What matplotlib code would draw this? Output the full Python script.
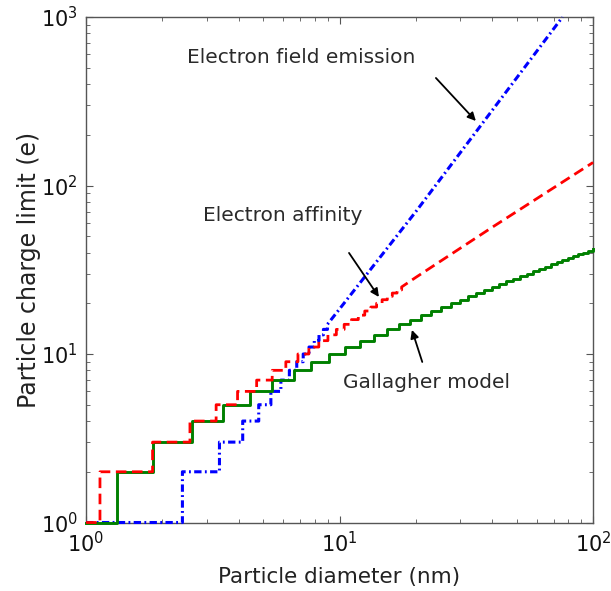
import numpy as np
import matplotlib
matplotlib.use("Agg")
import matplotlib.pyplot as plt

# step edges: diameter (nm) where the charge limit rises to the next integer
gallagher_edges = [1.32, 1.83, 2.61, 3.47, 4.42, 5.41, 6.61, 7.74, 9.09, 10.52,
                   12.05, 13.66, 15.37, 17.15, 19.03, 21.00, 23.05, 25.19, 27.42,
                   29.74, 32.15, 34.65, 37.24, 39.92, 42.70, 45.55, 48.53, 51.58,
                   54.71, 57.96, 61.30, 64.73, 68.25, 71.88, 75.62, 79.43, 83.36,
                   87.38, 91.50, 95.72, 99.6]

affinity_edges = [1.135, 1.83, 2.57, 3.26, 3.96, 4.71, 5.425, 6.14, 6.855, 7.57,
                  8.285, 9.0, 9.715, 10.43, 11.145, 11.86, 12.575, 13.29, 14.005,
                  14.72, 15.435, 16.15, 16.865, 17.58]
affinity_tail_d = [20, 40, 100]
affinity_tail_q = [28.5, 56.5, 137]

emission_edges = [2.40, 3.36, 4.15, 4.80, 5.36, 5.87, 6.34, 6.78, 7.19, 7.58,
                  7.95, 8.30, 8.64, 8.96]
emission_tail_d = [10, 20, 40, 75.8]
emission_tail_q = [18.5, 70, 279, 1000]


def staircase(edges, start=1.0):
    # vertices of a post-step curve starting at charge 1
    levels = np.arange(1, len(edges) + 2)
    xs = np.concatenate(([start], np.repeat(edges, 2)))
    ys = np.repeat(levels, 2)[:-1]
    return xs, ys


fig = plt.figure(figsize=(6.11, 5.91), dpi=100)
ax = fig.add_axes([0.1408, 0.1159, 0.8298, 0.8553])
ax.set_xscale("log")
ax.set_yscale("log")

# emission (blue, bottom)
xs, ys = staircase(emission_edges)
xs = np.concatenate((xs, emission_tail_d))
ys = np.concatenate((ys, emission_tail_q))
ax.plot(xs, ys, color="#0000ff", lw=2.2, ls=(0, (2.4, 1.1, 0.6, 1.1)), zorder=3, clip_on=False)

# gallagher (green solid)
xs, ys = staircase(gallagher_edges)
xs = np.concatenate((xs, [100]))
ys = np.concatenate((ys, [ys[-1]]))
ax.plot(xs, ys, color="#008000", lw=2.1, zorder=4, clip_on=False)

# affinity (red dashed)
xs, ys = staircase(affinity_edges)
xs = np.concatenate((xs, affinity_tail_d))
ys = np.concatenate((ys, affinity_tail_q))
ax.plot(xs, ys, color="#ff0000", lw=2, ls=(0, (3.8, 2)), zorder=5, clip_on=False)

ax.set_xlim(1, 100)
ax.set_ylim(1, 1000)

ax.set_xlabel("Particle diameter (nm)", fontsize=15.5, labelpad=8, color="#222222")
ax.set_ylabel("Particle charge limit (e)", fontsize=17, labelpad=0, color="#222222")

for s in ax.spines.values():
    s.set_color("#555555")
    s.set_linewidth(1)
ax.tick_params(which="both", direction="in", top=True, right=True,
               color="#555555", labelsize=15, labelcolor="#111111")
ax.tick_params(which="major", length=5, pad=6)
ax.tick_params(which="minor", length=3)

arrow = dict(arrowstyle="-|>", color="k", lw=1.3, mutation_scale=12,
             shrinkA=0, shrinkB=0)

ax.text(2.50, 579, "Electron field emission", fontsize=14.5, ha="left", va="center", color="#2a2a2a")
ax.annotate("", xy=(34.5, 241.5), xytext=(24.0, 434.7), arrowprops=arrow)

ax.text(2.89, 66.8, "Electron affinity", fontsize=14.5, ha="left", va="center", color="#2a2a2a")
ax.annotate("", xy=(14.3, 21.8), xytext=(10.9, 39.8), arrowprops=arrow)

ax.text(10.3, 6.82, "Gallagher model", fontsize=14.5, ha="left", va="center", color="#2a2a2a")
ax.annotate("", xy=(19.3, 13.9), xytext=(21.2, 8.97), arrowprops=arrow)

fig.savefig("out.png", dpi=100)
